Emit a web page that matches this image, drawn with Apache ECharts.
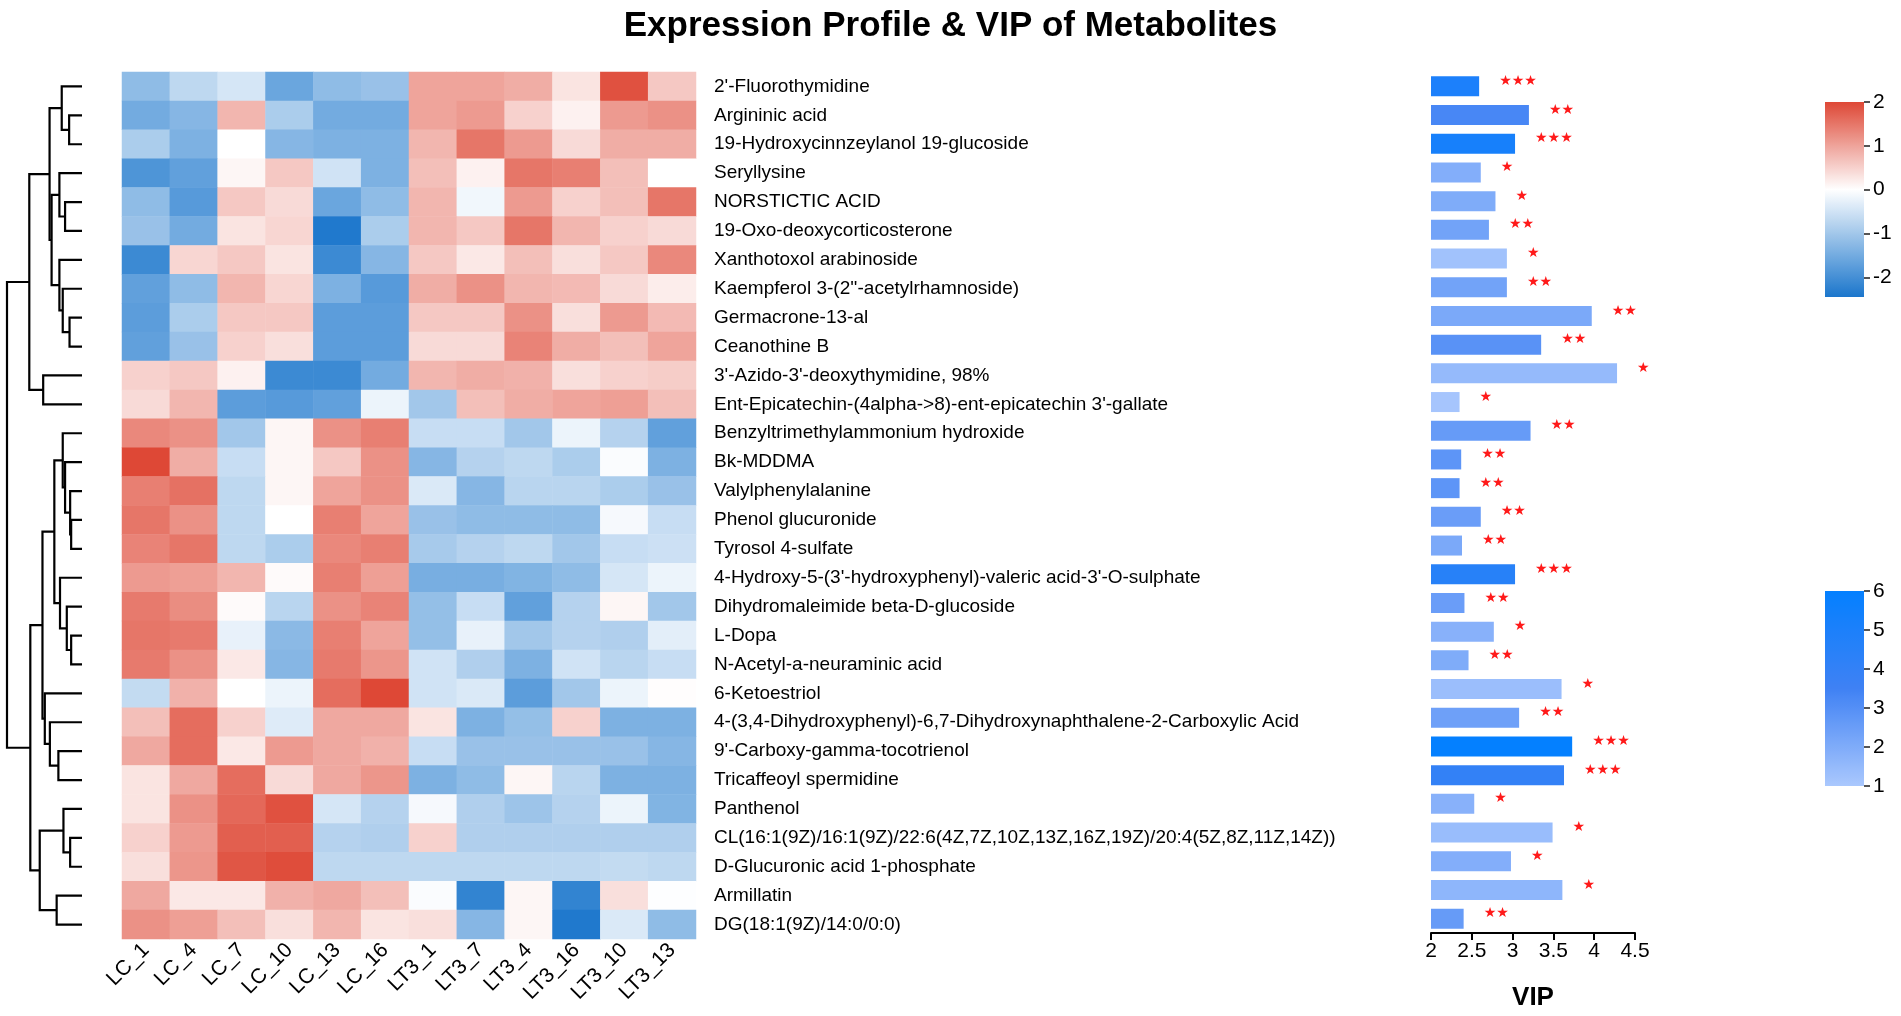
<!DOCTYPE html>
<html>
<head>
<meta charset="utf-8">
<title>Expression Profile & VIP of Metabolites</title>
<style>
  html, body, #chart {width: 100%; height: 100%; margin: 0; overflow: hidden; background: #fff;}
</style>
</head>
<body>
<div id="chart"></div>
<script src="https://cdn.jsdelivr.net/npm/echarts@6/dist/echarts.min.js"></script>
<script>
// sample columns (heatmap x axis)
var samples = ['LC_1', 'LC_4', 'LC_7', 'LC_10', 'LC_13', 'LC_16',
               'LT3_1', 'LT3_7', 'LT3_4', 'LT3_16', 'LT3_10', 'LT3_13'];

// metabolite rows, top to bottom
var metabolites = [
  "2'-Fluorothymidine",
  'Argininic acid',
  '19-Hydroxycinnzeylanol 19-glucoside',
  'Seryllysine',
  'NORSTICTIC ACID',
  '19-Oxo-deoxycorticosterone',
  'Xanthotoxol arabinoside',
  "Kaempferol 3-(2''-acetylrhamnoside)",
  'Germacrone-13-al',
  'Ceanothine B',
  "3'-Azido-3'-deoxythymidine, 98%",
  "Ent-Epicatechin-(4alpha->8)-ent-epicatechin 3'-gallate",
  'Benzyltrimethylammonium hydroxide',
  'Bk-MDDMA',
  'Valylphenylalanine',
  'Phenol glucuronide',
  'Tyrosol 4-sulfate',
  "4-Hydroxy-5-(3'-hydroxyphenyl)-valeric acid-3'-O-sulphate",
  'Dihydromaleimide beta-D-glucoside',
  'L-Dopa',
  'N-Acetyl-a-neuraminic acid',
  '6-Ketoestriol',
  '4-(3,4-Dihydroxyphenyl)-6,7-Dihydroxynaphthalene-2-Carboxylic Acid',
  "9'-Carboxy-gamma-tocotrienol",
  'Tricaffeoyl spermidine',
  'Panthenol',
  'CL(16:1(9Z)/16:1(9Z)/22:6(4Z,7Z,10Z,13Z,16Z,19Z)/20:4(5Z,8Z,11Z,14Z))',
  'D-Glucuronic acid 1-phosphate',
  'Armillatin',
  'DG(18:1(9Z)/14:0/0:0)'
];

// scaled expression, one row per metabolite, columns in samples order
var expr = [
  [-1.2, -0.7, -0.45, -1.6, -1.2, -1.1, 1.0, 1.0, 0.9, 0.3, 1.9, 0.6],
  [-1.5, -1.3, 0.8, -0.9, -1.5, -1.5, 1.0, 1.1, 0.5, 0.15, 1.1, 1.2],
  [-0.9, -1.4, 0.0, -1.3, -1.4, -1.4, 0.8, 1.5, 1.1, 0.4, 0.9, 0.9],
  [-1.9, -1.7, 0.1, 0.6, -0.5, -1.4, 0.7, 0.15, 1.5, 1.4, 0.7, 0.0],
  [-1.2, -1.8, 0.6, 0.4, -1.6, -1.2, 0.8, -0.15, 1.1, 0.5, 0.7, 1.5],
  [-1.1, -1.5, 0.3, 0.45, -2.4, -0.9, 0.8, 0.6, 1.5, 0.8, 0.5, 0.4],
  [-2.1, 0.45, 0.6, 0.3, -2.1, -1.3, 0.6, 0.25, 0.7, 0.35, 0.6, 1.3],
  [-1.7, -1.2, 0.8, 0.45, -1.4, -1.8, 0.9, 1.2, 0.8, 0.75, 0.4, 0.2],
  [-1.75, -0.9, 0.6, 0.6, -1.75, -1.75, 0.6, 0.6, 1.2, 0.35, 1.1, 0.75],
  [-1.7, -1.1, 0.5, 0.35, -1.75, -1.75, 0.4, 0.4, 1.35, 0.9, 0.7, 1.0],
  [0.5, 0.6, 0.15, -2.1, -2.1, -1.5, 0.8, 0.9, 0.85, 0.35, 0.5, 0.55],
  [0.4, 0.8, -1.75, -1.8, -1.7, -0.2, -1.0, 0.7, 0.9, 1.0, 1.05, 0.7],
  [1.3, 1.2, -1.0, 0.1, 1.2, 1.4, -0.6, -0.6, -1.0, -0.2, -0.8, -1.7],
  [2.0, 0.9, -0.6, 0.1, 0.6, 1.2, -1.3, -0.8, -0.7, -0.9, -0.05, -1.4],
  [1.4, 1.55, -0.7, 0.1, 1.0, 1.2, -0.4, -1.3, -0.75, -0.75, -0.9, -1.1],
  [1.5, 1.2, -0.7, 0.0, 1.4, 1.0, -1.1, -1.2, -1.2, -1.2, -0.1, -0.6],
  [1.35, 1.5, -0.7, -0.9, 1.3, 1.4, -0.95, -0.8, -0.7, -1.0, -0.6, -0.55],
  [1.1, 1.05, 0.8, 0.05, 1.4, 1.05, -1.45, -1.45, -1.35, -1.2, -0.45, -0.2],
  [1.45, 1.25, 0.05, -0.75, 1.2, 1.35, -1.15, -0.6, -1.7, -0.8, 0.1, -1.0],
  [1.5, 1.45, -0.25, -1.25, 1.4, 1.0, -1.15, -0.25, -1.0, -0.8, -0.85, -0.3],
  [1.45, 1.2, 0.25, -1.3, 1.45, 1.15, -0.5, -0.85, -1.4, -0.5, -0.75, -0.6],
  [-0.65, 0.85, 0.0, -0.2, 1.6, 2.0, -0.5, -0.4, -1.75, -1.0, -0.2, 0.02],
  [0.7, 1.6, 0.5, -0.35, 0.95, 0.95, 0.3, -1.4, -1.15, 0.5, -1.4, -1.4],
  [0.95, 1.6, 0.25, 1.1, 0.95, 0.85, -0.6, -1.1, -1.1, -1.1, -1.1, -1.3],
  [0.3, 0.95, 1.6, 0.4, 0.95, 1.15, -1.4, -1.2, 0.1, -0.75, -1.4, -1.4],
  [0.3, 1.2, 1.65, 1.9, -0.45, -0.8, -0.1, -0.85, -1.05, -0.8, -0.2, -1.35],
  [0.5, 1.1, 1.75, 1.75, -0.8, -0.85, 0.5, -0.85, -0.85, -0.85, -0.85, -0.85],
  [0.35, 1.15, 1.85, 1.95, -0.7, -0.7, -0.7, -0.7, -0.7, -0.7, -0.65, -0.7],
  [0.95, 0.25, 0.25, 0.85, 0.95, 0.7, -0.05, -2.2, 0.1, -2.2, 0.35, -0.02],
  [1.2, 1.05, 0.7, 0.35, 0.8, 0.3, 0.35, -1.3, 0.1, -2.4, -0.4, -1.2]
];

// VIP score per metabolite
var vip = [2.59, 3.20, 3.03, 2.61, 2.79, 2.71, 2.93, 2.93, 3.97, 3.35,
           4.28, 2.35, 3.22, 2.37, 2.35, 2.61, 2.38, 3.03, 2.41, 2.77,
           2.46, 3.60, 3.08, 3.73, 3.63, 2.53, 3.49, 2.98, 3.61, 2.40];

// value shown by bar colour (1..6 scale)
var vipShade = [5.0, 3.3, 5.2, 1.9, 2.0, 2.3, 1.2, 2.3, 2.1, 2.9,
                1.5, 1.1, 2.6, 2.8, 2.8, 2.5, 2.1, 4.5, 2.5, 1.8,
                2.0, 1.35, 2.4, 6.0, 4.0, 1.8, 1.4, 1.9, 1.65, 2.6];

// significance marks
var sig = ['***', '**', '***', '*', '*', '**', '*', '**', '**', '**',
           '*', '*', '**', '**', '**', '**', '**', '***', '**', '*',
           '**', '*', '**', '***', '***', '*', '*', '*', '*', '**'];

// legend tick values
var heatTicks = [-2, -1, 0, 1, 2];
var shadeTicks = [1, 2, 3, 4, 5, 6];

// row clustering: [height, left, right], leaves are row indices
var rowTree = [74,
  [52,
    [32,
      [20, 0, [12.7, 1, 2]],
      [30, [22.3, 3, [16.7, 4, 5]], [22.3, 6, [19, 7, [12.3, 8, 9]]]]],
    [38.3, 10, 11]],
  [51,
    [39,
      [27.3,
        [19, 12, [16.7, 13, [11.7, 14, [10.7, 15, 16]]]],
        [21.7, 17, [15, 18, [10.7, 19, 20]]]],
      [36.7, 21, [31.7, 22, [23.3, 23, 24]]]],
    [41.7, [18.3, 25, [11.7, 26, 27]], [25, 28, 29]]]
];

var heatMin = -2.45, heatMax = 2;
var shadeMin = 1, shadeMax = 6;

function mix(stops, v) {
  for (var i = 1; i < stops.length; i++) {
    if (v <= stops[i][0] || i === stops.length - 1) {
      var a = stops[i - 1], b = stops[i];
      var t = Math.max(0, Math.min(1, (v - a[0]) / (b[0] - a[0])));
      var c = a[1].map(function (x, k) { return Math.round(x + (b[1][k] - x) * t); });
      return 'rgb(' + c.join(',') + ')';
    }
  }
}
var heatStops = [[heatMin, [27, 118, 204]], [0, [255, 255, 255]], [heatMax, [222, 72, 54]]];
var shadeStops = [[shadeMin, [170, 200, 253]], [3.5, [63, 129, 244]], [shadeMax, [4, 128, 255]]];

function ramp(stops, lo, hi, n) {
  var out = [];
  for (var i = 0; i <= n; i++) out.push(mix(stops, lo + (hi - lo) * i / n));
  return out;
}
var heatColors = ramp(heatStops, heatMin, heatMax, 89);
var shadeColors = ramp(shadeStops, shadeMin, shadeMax, 50);

// heatmap cells
var heatData = [];
expr.forEach(function (row, r) {
  row.forEach(function (v, c) { heatData.push([c, r, v]); });
});

// dendrogram segments
var dendroLines = [];
function place(node) {
  if (typeof node === 'number') return {h: 0, y: node};
  var a = place(node[1]), b = place(node[2]), h = node[0];
  dendroLines.push({coords: [[a.h, a.y], [h, a.y], [h, b.y], [b.h, b.y]]});
  return {h: h, y: (a.y + b.y) / 2};
}
place(rowTree);

var barData = vip.map(function (v, i) { return [v, i, vipShade[i]]; });

function legendBar(colors, lo, hi) {
  return function (params, api) {
    var p1 = api.coord([0, hi]), p2 = api.coord([1, lo]);
    var n = colors.length - 1;
    var stops = colors.map(function (c, i) { return {offset: 1 - i / n, color: c}; }).reverse();
    return {
      type: 'rect',
      shape: {x: p1[0], y: p1[1], width: p2[0] - p1[0], height: p2[1] - p1[1]},
      style: {fill: new echarts.graphic.LinearGradient(0, 0, 0, 1, stops), stroke: null}
    };
  };
}

function legendAxis(grid, lo, hi, ticks) {
  return {
    gridIndex: grid, type: 'value', min: lo, max: hi, position: 'right',
    axisLine: {show: false, onZero: false}, splitLine: {show: false},
    axisTick: {show: true, length: 6, customValues: ticks, lineStyle: {color: '#555', width: 2}},
    axisLabel: {fontSize: 21, color: '#000', margin: 9, customValues: ticks}
  };
}

var font = 'Liberation Sans';
var myChart = echarts.init(document.getElementById('chart'));
myChart.setOption({
  backgroundColor: '#fff',
  textStyle: {fontFamily: font},
  title: {
    text: 'Expression Profile & VIP of Metabolites',
    left: 'center', top: 4,
    textStyle: {fontSize: 35, fontWeight: 'bold', color: '#000', fontFamily: font}
  },
  grid: [
    {left: 7, top: 72, width: 75, height: 867},
    {left: 122, top: 72, width: 574, height: 867},
    {left: 1431, top: 72, width: 204, height: 867},
    {left: 1825, top: 102, width: 39, height: 195},
    {left: 1825, top: 591, width: 39, height: 195}
  ],
  xAxis: [
    {gridIndex: 0, type: 'value', min: 0, max: rowTree[0], inverse: true, show: false},
    {gridIndex: 1, type: 'category', data: samples, position: 'bottom',
     axisLine: {show: false}, axisTick: {show: false}, splitArea: {show: false},
     axisLabel: {rotate: 45, margin: 8, fontSize: 21, color: '#000', interval: 0}},
    {gridIndex: 2, type: 'value', min: 2, max: 4.5, interval: 0.5, position: 'bottom',
     axisLine: {show: true, lineStyle: {color: '#000', width: 2}},
     axisTick: {show: true, length: 7, lineStyle: {color: '#000', width: 2}},
     splitLine: {show: false},
     axisLabel: {fontSize: 21, color: '#000', margin: 8},
     name: 'VIP', nameLocation: 'middle', nameGap: 52,
     nameTextStyle: {fontSize: 26, fontWeight: 'bold', color: '#000'}},
    {gridIndex: 3, type: 'value', min: 0, max: 1, show: false},
    {gridIndex: 4, type: 'value', min: 0, max: 1, show: false}
  ],
  yAxis: [
    {gridIndex: 0, type: 'value', min: -0.5, max: metabolites.length - 0.5, inverse: true, show: false},
    {gridIndex: 1, type: 'category', data: metabolites, inverse: true, position: 'right',
     axisLine: {show: false}, axisTick: {show: false},
     axisLabel: {fontSize: 19, color: '#000', margin: 18, interval: 0}},
    {gridIndex: 2, type: 'category', data: metabolites, inverse: true, show: false},
    legendAxis(3, heatMin, heatMax, heatTicks),
    legendAxis(4, shadeMin, shadeMax, shadeTicks)
  ],
  visualMap: [
    {type: 'continuous', show: false, seriesIndex: 1, dimension: 2,
     min: heatMin, max: heatMax, inRange: {color: heatColors}},
    {type: 'continuous', show: false, seriesIndex: 2, dimension: 2,
     min: shadeMin, max: shadeMax, inRange: {color: shadeColors}}
  ],
  series: [
    {
      type: 'lines', coordinateSystem: 'cartesian2d', xAxisIndex: 0, yAxisIndex: 0,
      polyline: true, silent: true, data: dendroLines,
      lineStyle: {color: '#000', width: 2.2, opacity: 1}
    },
    {
      type: 'heatmap', xAxisIndex: 1, yAxisIndex: 1, data: heatData,
      itemStyle: {borderWidth: 0}
    },
    {
      type: 'bar', xAxisIndex: 2, yAxisIndex: 2, data: barData,
      encode: {x: 0, y: 1}, barWidth: 20,
      label: {
        show: true, position: 'right', distance: 20, offset: [0, -5],
        fontSize: 14, color: '#ff1a1a', fontFamily: 'DejaVu Sans',
        formatter: function (p) { return sig[p.dataIndex].replace(/\*/g, '\u2605'); }
      }
    },
    {
      type: 'custom', xAxisIndex: 3, yAxisIndex: 3, data: [[0, 0]], silent: true,
      renderItem: legendBar(heatColors, heatMin, heatMax)
    },
    {
      type: 'custom', xAxisIndex: 4, yAxisIndex: 4, data: [[0, 0]], silent: true,
      renderItem: legendBar(shadeColors, shadeMin, shadeMax)
    }
  ]
});
</script>
</body>
</html>
